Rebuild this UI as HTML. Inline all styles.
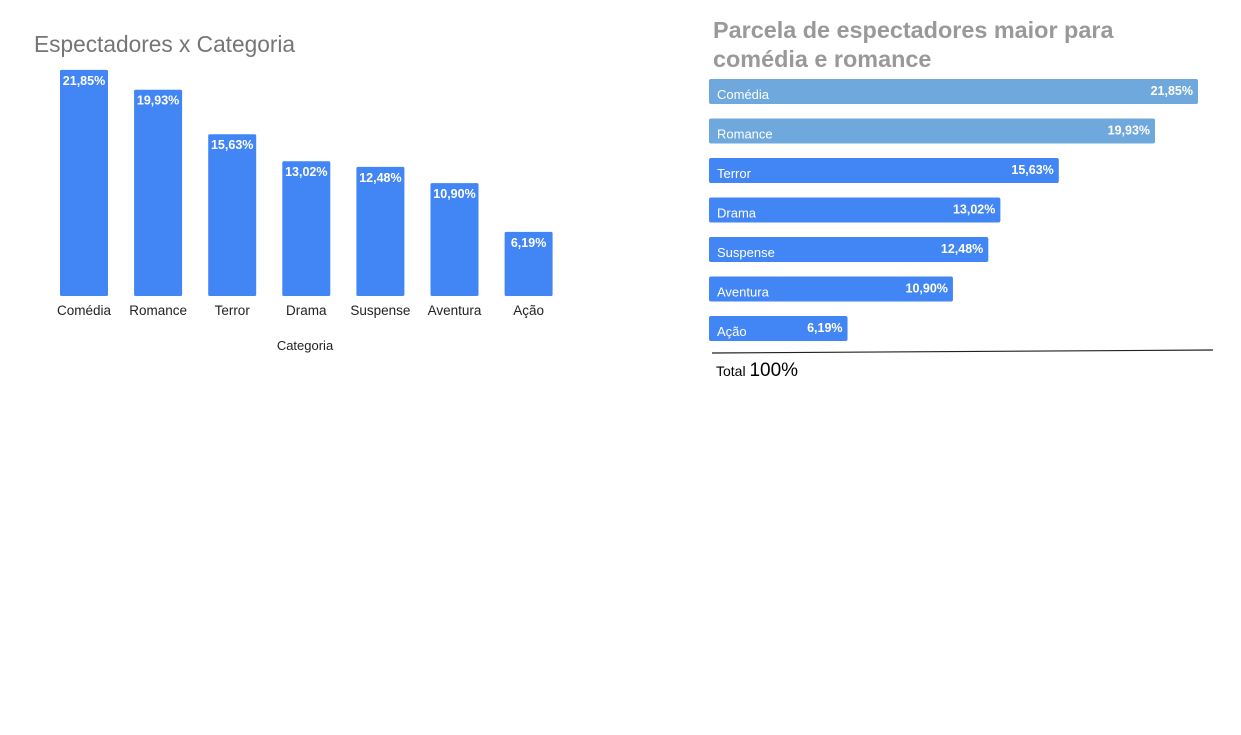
<!DOCTYPE html>
<html><head><meta charset="utf-8"><style>
body{margin:0;width:1241px;height:730px;background:#fff;overflow:hidden;font-family:"Liberation Sans",sans-serif;}
svg text{font-family:"Liberation Sans",sans-serif;}
</style></head><body>
<svg width="1241" height="730">
<text x="34" y="52" font-size="22.7" fill="#757575">Espectadores x Categoria</text>
<g id="left"></g>
<text x="305" y="350" font-size="13" fill="#222" text-anchor="middle">Categoria</text>
<text x="713" y="38" font-size="23.4" font-weight="bold" fill="#999">Parcela de espectadores maior para</text>
<text x="713" y="67" font-size="23.4" font-weight="bold" fill="#999">comédia e romance</text>
<g id="right"></g>
<line x1="712" y1="353" x2="1213" y2="350" stroke="#222" stroke-width="1.2"/>
<text x="716" y="376" font-size="14" fill="#000">Total <tspan font-size="19">100%</tspan></text>
</svg>
<script>
const categories=["Comédia","Romance","Terror","Drama","Suspense","Aventura","Ação"];
const values=[21.85,19.93,15.63,13.02,12.48,10.90,6.19];
const labels=["21,85%","19,93%","15,63%","13,02%","12,48%","10,90%","6,19%"];
const highlighted=[true,true,false,false,false,false,false];
const NS="http://www.w3.org/2000/svg";
function mk(t,a,p){const e=document.createElementNS(NS,t);for(const k in a)e.setAttribute(k,a[k]);p.appendChild(e);return e;}
const L=document.getElementById('left');
const base=296, yScale=v=>v*10.35, xPos=i=>60+i*74.1;
categories.forEach((c,i)=>{
  const h=yScale(values[i]);
  const r=mk('rect',{x:xPos(i),y:base-h,width:48,height:h,fill:'#4285f4',rx:1.5},L);
  
  
  const t=mk('text',{x:xPos(i)+24,y:base-h+15,'font-size':12.5,'font-weight':'bold',fill:'#fff','text-anchor':'middle'},L);t.textContent=labels[i];
  
  
  const x=mk('text',{x:xPos(i)+24,y:315,'font-size':13.5,fill:'#222','text-anchor':'middle'},L);x.textContent=c;
  
  
});
const R=document.getElementById('right');
const xS=v=>v*22.38, rowY=i=>79+i*39.5;
categories.forEach((c,i)=>{
  const w=xS(values[i]);
  const r=mk('rect',{x:709,y:rowY(i),width:w,height:25,fill:highlighted[i]?'#6fa8dc':'#4285f4',rx:2},R);
  
  
  const t=mk('text',{x:717,y:rowY(i)+20,'font-size':13,fill:'#fff'},R);t.textContent=c;
  
  
  const v=mk('text',{x:709+w-5,y:rowY(i)+16,'font-size':12.5,'font-weight':'bold',fill:'#fff','text-anchor':'end'},R);v.textContent=labels[i];
  
  
});
</script>
</body></html>
